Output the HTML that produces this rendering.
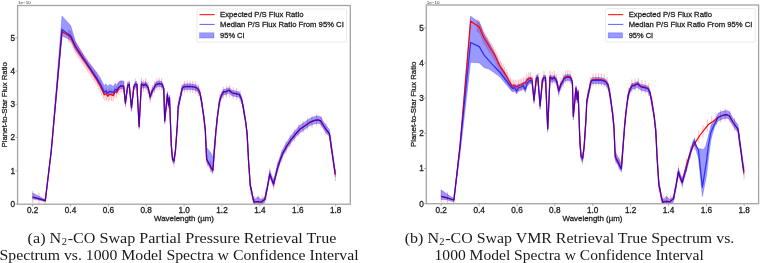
<!DOCTYPE html>
<html><head><meta charset="utf-8"><style>
html,body{margin:0;padding:0;background:#fff;}
body{width:760px;height:263px;overflow:hidden;position:relative;}
svg{position:absolute;left:0;top:0;will-change:transform;filter:blur(0.25px);}
svg text{font-family:"Liberation Sans",sans-serif;stroke:#222;stroke-width:0.28px;} svg text.tk{stroke-width:0.3px;stroke:#222;} svg text.off{stroke:none;}
svg text.serif{font-family:"Liberation Serif",serif;stroke:none;}
</style></head><body>
<svg width="760" height="263" viewBox="0 0 760 263"><rect width="760" height="263" fill="#fff"/><clipPath id="ca"><rect x="17.6" y="5.5" width="332.7" height="198.7"/></clipPath><g clip-path="url(#ca)"><path d="M32.6 191.1V203.1M38.9 192.7V204.7M45.2 194.6V206.6M61.8 28.1V40.1M68.6 29.7V41.7M69.7 30.4V42.4M70.8 31.1V43.1M71.9 33.5V45.5M73.0 35.9V47.9M74.1 38.4V50.4M75.2 40.9V52.9M76.4 42.7V54.7M77.6 44.5V56.5M78.8 46.3V58.3M80.0 48.1V60.1M81.2 50.0V62.0M82.4 51.8V63.8M83.7 53.7V65.7M85.0 55.6V67.6M86.3 57.6V69.6M87.6 59.6V71.6M88.9 61.6V73.6M90.3 63.6V75.6M91.7 65.7V77.7M93.1 67.9V79.9M94.5 70.1V82.1M95.9 72.3V84.3M97.4 74.8V86.8M98.8 77.5V89.5M100.3 80.2V92.2M101.9 83.4V95.4M103.4 86.8V98.8M105.0 88.3V100.3M106.6 88.4V100.4M108.2 89.7V101.7M109.8 88.4V100.4M111.5 88.7V100.7M113.1 89.6V101.6M114.8 86.3V98.3M116.6 86.1V98.1M118.3 82.7V94.7M120.1 80.7V92.7M121.9 80.2V92.2M123.7 80.7V92.7M125.6 95.8V107.8M127.5 81.5V93.5M129.4 80.2V92.2M131.3 100.1V112.1M133.3 85.9V97.9M135.3 78.4V90.4M137.3 86.0V98.0M139.4 115.9V127.9M141.4 78.0V90.0M143.5 79.7V91.7M145.7 78.2V90.2M147.9 81.5V93.5M150.1 91.0V103.0M152.3 84.8V96.8M154.6 81.2V93.2M156.9 78.4V90.4M159.2 77.7V89.7M161.6 78.3V90.3M164.0 88.7V100.7M166.4 98.2V110.2M168.9 96.4V108.4M171.4 140.0V152.0M173.9 155.1V167.1M176.5 130.4V142.4M179.1 96.7V108.7M181.8 84.3V96.3M184.5 80.8V92.8M187.2 80.6V92.6M190.0 80.6V92.6M192.8 80.9V92.9M195.6 81.6V93.6M198.5 84.2V96.2M201.4 95.0V107.0M204.4 116.3V128.3M207.4 154.7V166.7M210.5 160.4V172.4M213.6 154.7V166.7M216.7 117.2V129.2M219.9 94.1V106.1M223.2 86.7V98.7M226.5 85.5V97.5M229.8 85.0V97.0M233.2 87.2V99.2M236.6 87.9V99.9M240.1 90.2V102.2M243.6 103.6V115.6M247.2 129.2V141.2M250.8 182.1V194.1M254.5 196.1V208.1M258.3 195.8V207.8M262.0 195.6V207.6M265.9 188.4V200.4M269.8 167.9V179.9M273.8 177.6V189.6M277.8 161.6V173.6M281.8 149.8V161.8M286.0 141.6V153.6M290.2 135.0V147.0M294.4 129.6V141.6M298.7 124.5V136.5M303.1 121.1V133.1M307.5 118.0V130.0M312.0 115.4V127.4M316.6 114.1V126.1M321.2 115.8V127.8M325.9 123.2V135.2M330.7 137.0V149.0M335.5 169.0V181.0" stroke="#ff0000" stroke-opacity="0.26" stroke-width="1.1" fill="none"/><polygon points="32.7,193.1 38.6,195.9 45.3,199.4 51.3,148.3 62.0,16.0 70.7,25.5 75.3,41.1 80.6,50.6 86.0,59.0 91.3,65.7 96.6,72.2 100.6,78.5 104.3,85.8 106.0,83.8 107.7,86.4 109.4,84.5 111.7,85.2 113.4,86.5 115.1,83.2 116.8,84.9 118.5,82.0 120.8,80.7 123.7,81.2 125.4,99.9 127.7,82.9 129.2,81.6 131.5,105.2 133.8,84.4 135.3,81.6 136.9,81.6 139.1,123.7 141.4,81.2 143.7,83.0 145.7,81.4 148.3,85.4 150.1,94.4 152.4,87.7 153.6,86.2 155.8,82.0 158.9,80.8 162.0,81.6 163.8,86.1 164.7,118.4 167.4,91.4 168.5,102.4 169.5,94.9 171.3,142.4 172.5,156.4 174.0,158.4 175.5,147.4 177.3,122.4 178.2,103.9 180.0,95.9 182.0,86.4 183.5,84.1 189.2,83.7 194.0,84.2 197.0,85.4 199.6,88.9 201.7,99.6 203.8,114.3 205.3,127.5 206.6,147.6 209.0,150.4 211.3,153.5 212.8,157.9 216.0,127.4 217.4,114.2 219.5,98.6 221.6,92.3 223.7,89.1 225.8,89.1 228.9,87.4 232.1,90.2 236.3,91.0 239.4,92.0 241.5,96.2 243.6,106.7 245.7,119.3 247.2,132.5 248.5,157.5 250.3,183.5 251.4,187.6 252.6,194.2 254.0,199.8 257.8,196.7 261.3,199.5 264.8,196.8 267.2,185.3 269.8,170.2 271.5,175.2 273.6,180.3 277.4,164.6 280.8,154.0 283.4,148.0 286.8,142.0 291.1,135.5 296.1,129.5 299.8,125.3 304.7,122.1 309.7,118.4 314.6,116.4 318.3,115.9 320.8,117.1 324.5,123.3 329.4,129.5 335.2,169.5 335.2,177.0 329.4,137.0 324.5,130.8 320.8,124.5 318.3,123.3 314.6,123.8 309.7,125.8 304.7,129.5 299.8,132.7 296.1,136.8 291.1,142.8 286.8,149.3 283.4,155.3 280.8,161.2 277.4,171.6 273.6,187.1 271.5,181.8 269.8,176.7 267.2,191.2 264.8,202.3 261.3,205.0 257.8,204.5 254.0,205.0 252.6,199.5 251.4,193.1 250.3,189.1 248.5,163.1 247.2,138.1 245.7,124.9 243.6,112.4 241.5,101.9 239.4,97.7 236.3,96.7 232.1,95.9 228.9,93.1 225.8,94.8 223.7,94.8 221.6,98.0 219.5,104.3 217.4,120.0 216.0,133.2 212.8,173.7 211.3,171.0 209.0,166.6 206.6,162.2 205.3,133.2 203.8,120.0 201.7,105.4 199.6,94.7 197.0,91.2 194.0,90.0 189.2,89.5 183.5,89.8 182.0,92.1 180.0,101.6 178.2,109.6 177.3,128.1 175.5,153.1 174.0,164.1 172.5,162.1 171.3,148.1 169.5,100.6 168.5,108.1 167.4,97.1 164.7,124.1 163.8,91.8 162.0,87.3 158.9,86.5 155.8,87.6 153.6,91.8 152.4,93.3 150.1,100.0 148.3,91.0 145.7,87.0 143.7,88.6 141.4,86.8 139.1,129.3 136.9,87.2 135.3,87.2 133.8,90.0 131.5,110.8 129.2,87.2 127.7,88.4 125.4,105.9 123.7,89.1 120.8,88.7 118.5,90.3 116.8,93.5 115.1,92.1 113.4,95.7 111.7,94.7 109.4,94.2 107.7,96.2 106.0,93.7 104.3,95.1 100.6,87.5 96.6,80.7 91.3,72.8 86.0,64.8 80.6,57.2 75.3,49.6 70.7,40.0 62.0,36.0 51.3,153.0 45.3,201.7 38.6,200.1 32.7,199.1" fill="#0000ff" fill-opacity="0.4" stroke="#0000ff" stroke-opacity="0.3" stroke-width="0.7" stroke-linejoin="round"/><polyline points="32.7,197.1 38.6,198.6 45.3,200.6 51.3,150.7 62.0,31.5 70.7,37.0 75.3,47.0 80.6,55.1 86.0,63.1 91.3,71.2 96.6,79.4 100.6,86.7 104.3,94.7 106.0,93.5 107.7,96.3 109.4,94.3 111.7,94.8 113.4,95.8 115.1,91.7 116.8,92.2 118.5,88.2 120.8,86.0 123.7,86.4 125.4,103.2 127.7,85.7 129.2,84.4 131.5,108.0 133.8,87.2 135.3,84.4 136.9,84.4 139.1,126.5 141.4,84.0 143.7,85.8 145.7,84.2 148.3,88.2 150.1,97.2 152.4,90.5 153.6,89.0 155.8,84.8 158.9,83.6 162.0,84.4 163.8,88.9 164.7,121.2 167.4,94.2 168.5,105.2 169.5,97.7 171.3,145.2 172.5,159.2 174.0,161.2 175.5,150.2 177.3,125.2 178.2,106.7 180.0,98.7 182.0,89.2 183.5,86.9 189.2,86.5 194.0,87.0 197.0,88.2 199.6,91.7 201.7,102.4 203.8,117.0 205.3,130.2 206.6,159.2 209.0,163.6 211.3,168.0 212.8,170.7 216.0,130.2 217.4,117.0 219.5,101.4 221.6,95.1 223.7,91.9 225.8,91.9 228.9,90.2 232.1,93.0 236.3,93.8 239.4,94.8 241.5,99.0 243.6,109.5 245.7,122.0 247.2,135.2 248.5,160.2 250.3,186.2 251.4,190.2 252.6,196.7 254.0,202.2 257.8,201.7 261.3,202.2 264.8,199.5 267.2,188.4 269.8,173.9 271.5,179.0 273.6,184.2 277.4,168.7 280.8,158.2 283.4,152.2 286.8,146.1 291.1,139.6 296.1,133.5 299.8,129.3 304.7,126.1 309.7,122.4 314.6,120.4 318.3,119.9 320.8,121.1 324.5,127.3 329.4,133.8 335.2,175.0" fill="none" stroke="#ff0000" stroke-width="1.2" stroke-linejoin="round"/><polyline points="32.7,197.1 38.6,198.6 45.3,200.6 51.3,150.0 62.0,29.5 70.7,36.0 75.3,46.0 80.6,54.0 86.0,62.0 91.3,70.0 96.6,77.9 100.6,84.6 104.3,92.2 106.0,90.8 107.7,93.3 109.4,91.3 111.7,91.8 113.4,92.8 115.1,89.2 116.8,90.6 118.5,87.4 120.8,85.8 123.7,86.2 125.4,103.0 127.7,85.5 129.2,84.2 131.5,107.8 133.8,87.0 135.3,84.2 136.9,84.2 139.1,126.3 141.4,83.8 143.7,85.6 145.7,84.0 148.3,88.0 150.1,97.0 152.4,90.3 153.6,88.8 155.8,84.6 158.9,83.4 162.0,84.2 163.8,88.7 164.7,121.0 167.4,94.0 168.5,105.0 169.5,97.5 171.3,145.0 172.5,159.0 174.0,161.0 175.5,150.0 177.3,125.0 178.2,106.5 180.0,98.5 182.0,89.0 183.5,86.7 189.2,86.3 194.0,86.8 197.0,88.0 199.6,91.5 201.7,102.2 203.8,116.8 205.3,130.0 206.6,159.0 209.0,163.4 211.3,167.8 212.8,170.5 216.0,130.0 217.4,116.8 219.5,101.2 221.6,94.9 223.7,91.7 225.8,91.7 228.9,90.0 232.1,92.8 236.3,93.6 239.4,94.6 241.5,98.8 243.6,109.3 245.7,121.8 247.2,135.0 248.5,160.0 250.3,186.0 251.4,190.0 252.6,196.5 254.0,202.0 257.8,201.5 261.3,202.0 264.8,199.3 267.2,188.2 269.8,173.7 271.5,178.8 273.6,184.0 277.4,168.5 280.8,158.0 283.4,152.0 286.8,146.0 291.1,139.5 296.1,133.5 299.8,129.3 304.7,126.1 309.7,122.4 314.6,120.4 318.3,119.9 320.8,121.1 324.5,127.3 329.4,133.5 335.2,173.5" fill="none" stroke="#0000ff" stroke-opacity="0.7" stroke-width="1.25" stroke-linejoin="round"/></g><rect x="17.6" y="5.5" width="332.7" height="198.7" fill="none" stroke="#a4a4a4" stroke-width="1.3"/><line x1="32.6" y1="204.2" x2="32.6" y2="206.4" stroke="#999" stroke-width="0.8"/><text x="32.6" y="212.8" class="tk" font-size="8.2" text-anchor="middle" fill="#222">0.2</text><line x1="70.5" y1="204.2" x2="70.5" y2="206.4" stroke="#999" stroke-width="0.8"/><text x="70.5" y="212.8" class="tk" font-size="8.2" text-anchor="middle" fill="#222">0.4</text><line x1="108.4" y1="204.2" x2="108.4" y2="206.4" stroke="#999" stroke-width="0.8"/><text x="108.4" y="212.8" class="tk" font-size="8.2" text-anchor="middle" fill="#222">0.6</text><line x1="146.2" y1="204.2" x2="146.2" y2="206.4" stroke="#999" stroke-width="0.8"/><text x="146.2" y="212.8" class="tk" font-size="8.2" text-anchor="middle" fill="#222">0.8</text><line x1="184.1" y1="204.2" x2="184.1" y2="206.4" stroke="#999" stroke-width="0.8"/><text x="184.1" y="212.8" class="tk" font-size="8.2" text-anchor="middle" fill="#222">1.0</text><line x1="222.0" y1="204.2" x2="222.0" y2="206.4" stroke="#999" stroke-width="0.8"/><text x="222.0" y="212.8" class="tk" font-size="8.2" text-anchor="middle" fill="#222">1.2</text><line x1="259.9" y1="204.2" x2="259.9" y2="206.4" stroke="#999" stroke-width="0.8"/><text x="259.9" y="212.8" class="tk" font-size="8.2" text-anchor="middle" fill="#222">1.4</text><line x1="297.8" y1="204.2" x2="297.8" y2="206.4" stroke="#999" stroke-width="0.8"/><text x="297.8" y="212.8" class="tk" font-size="8.2" text-anchor="middle" fill="#222">1.6</text><line x1="335.6" y1="204.2" x2="335.6" y2="206.4" stroke="#999" stroke-width="0.8"/><text x="335.6" y="212.8" class="tk" font-size="8.2" text-anchor="middle" fill="#222">1.8</text><line x1="15.4" y1="204.0" x2="17.6" y2="204.0" stroke="#999" stroke-width="0.8"/><text x="15.0" y="206.9" class="tk" font-size="8.2" text-anchor="end" fill="#222">0</text><line x1="15.4" y1="170.8" x2="17.6" y2="170.8" stroke="#999" stroke-width="0.8"/><text x="15.0" y="173.7" class="tk" font-size="8.2" text-anchor="end" fill="#222">1</text><line x1="15.4" y1="137.5" x2="17.6" y2="137.5" stroke="#999" stroke-width="0.8"/><text x="15.0" y="140.4" class="tk" font-size="8.2" text-anchor="end" fill="#222">2</text><line x1="15.4" y1="104.3" x2="17.6" y2="104.3" stroke="#999" stroke-width="0.8"/><text x="15.0" y="107.2" class="tk" font-size="8.2" text-anchor="end" fill="#222">3</text><line x1="15.4" y1="71.0" x2="17.6" y2="71.0" stroke="#999" stroke-width="0.8"/><text x="15.0" y="73.9" class="tk" font-size="8.2" text-anchor="end" fill="#222">4</text><line x1="15.4" y1="37.8" x2="17.6" y2="37.8" stroke="#999" stroke-width="0.8"/><text x="15.0" y="40.7" class="tk" font-size="8.2" text-anchor="end" fill="#222">5</text><text x="18.1" y="4.0" class="off" font-size="4.2" fill="#333" textLength="12.6" lengthAdjust="spacingAndGlyphs">1e−10</text><text x="184.0" y="220.6" font-size="7.6" text-anchor="middle" fill="#222" textLength="60" lengthAdjust="spacingAndGlyphs">Wavelength (µm)</text><text transform="translate(7.4,104.8) rotate(-90)" x="0" y="0" font-size="7.7" text-anchor="middle" fill="#222" textLength="85.5" lengthAdjust="spacingAndGlyphs">Planet-to-Star Flux Ratio</text><rect x="197.0" y="9.1" width="149.5" height="33.0" rx="1.5" fill="#fff" fill-opacity="0.8" stroke="#ddd" stroke-width="0.6"/><line x1="199.5" y1="14.7" x2="214.7" y2="14.7" stroke="#ff0000" stroke-width="1"/><line x1="199.5" y1="24.4" x2="214.7" y2="24.4" stroke="#0000ff" stroke-opacity="0.7" stroke-width="0.9"/><rect x="199.6" y="32.8" width="14.4" height="5.2" fill="#0000ff" fill-opacity="0.4" stroke="#0000ff" stroke-opacity="0.3" stroke-width="0.7"/><text x="220.1" y="17.0" font-size="7.7" fill="#222" textLength="83.4" lengthAdjust="spacingAndGlyphs">Expected P/S Flux Ratio</text><text x="220.1" y="27.3" font-size="7.7" fill="#222" textLength="123.7" lengthAdjust="spacingAndGlyphs">Median P/S Flux Ratio From 95% CI</text><text x="220.1" y="37.7" font-size="7.7" fill="#222" textLength="24.5" lengthAdjust="spacingAndGlyphs">95% CI</text><clipPath id="cb"><rect x="426.3" y="5.0" width="332.3" height="198.7"/></clipPath><g clip-path="url(#cb)"><path d="M441.2 190.0V202.6M447.5 191.7V204.3M453.8 193.7V206.3M470.4 17.7V30.3M477.2 19.4V32.0M478.3 20.1V32.7M479.4 20.9V33.5M480.5 23.4V36.0M481.6 26.0V38.6M482.7 28.6V41.2M483.8 31.2V43.8M485.0 33.1V45.7M486.2 35.0V47.6M487.4 36.9V49.5M488.6 38.9V51.5M489.8 40.8V53.4M491.0 42.8V55.4M492.3 44.8V57.4M493.6 46.8V59.4M494.9 49.0V61.6M496.2 51.8V64.4M497.5 54.7V67.3M498.9 57.6V70.2M500.3 60.4V73.0M501.7 62.5V75.1M503.1 64.6V77.2M504.5 66.8V79.4M506.0 69.2V81.8M507.4 71.8V84.4M508.9 74.5V87.1M510.5 77.2V89.8M512.0 79.4V92.0M513.6 79.7V92.3M515.2 79.7V92.3M516.8 80.6V93.2M518.4 79.4V92.0M520.1 79.0V91.6M521.7 78.4V91.0M523.4 77.3V89.9M525.2 76.7V89.3M526.9 73.9V86.5M528.7 72.6V85.2M530.5 72.2V84.8M532.3 76.1V88.7M534.2 91.7V104.3M536.1 74.4V87.0M538.0 73.1V85.7M539.9 97.1V109.7M541.9 79.6V92.2M543.9 70.9V83.5M545.9 80.1V92.7M548.0 116.4V129.0M550.0 70.5V83.1M552.1 72.2V84.8M554.3 70.7V83.3M556.5 74.2V86.8M558.7 84.2V96.8M560.9 77.6V90.2M563.2 73.8V86.4M565.5 70.9V83.5M567.8 70.1V82.7M570.2 70.7V83.3M572.6 81.8V94.4M575.0 91.8V104.4M577.5 89.9V102.5M580.0 136.0V148.6M582.5 151.9V164.5M585.1 125.8V138.4M587.7 90.2V102.8M590.4 77.1V89.7M593.1 73.4V86.0M595.8 73.2V85.8M598.6 73.2V85.8M601.4 73.5V86.1M604.2 74.3V86.9M607.1 77.0V89.6M610.0 88.5V101.1M613.0 111.0V123.6M616.0 151.5V164.1M619.1 157.6V170.2M622.2 151.5V164.1M625.3 111.9V124.5M628.5 87.5V100.1M631.8 79.6V92.2M635.1 78.4V91.0M638.4 77.8V90.4M641.8 80.2V92.8M645.2 80.9V93.5M648.7 83.3V95.9M652.2 97.5V110.1M655.8 124.6V137.2M659.4 180.5V193.1M663.1 195.3V207.9M666.9 194.9V207.5M670.6 194.8V207.4M674.5 187.2V199.8M678.4 165.5V178.1M682.4 175.7V188.3M686.4 158.8V171.4M690.4 146.3V158.9M694.6 137.7V150.3M698.8 130.7V143.3M703.0 125.0V137.6M707.3 119.6V132.2M711.7 116.1V128.7M716.1 112.7V125.3M720.6 110.0V122.6M725.2 108.6V121.2M729.8 110.4V123.0M734.5 118.2V130.8M739.3 132.9V145.5M744.1 166.6V179.2" stroke="#ff0000" stroke-opacity="0.26" stroke-width="1.1" fill="none"/><polygon points="441.3,189.9 447.2,194.1 453.9,198.7 459.9,144.8 470.6,16.1 479.3,22.6 483.9,33.8 489.2,43.0 494.6,52.9 500.0,64.8 505.3,72.8 511.3,83.5 512.6,84.8 514.6,84.1 516.6,85.5 518.6,84.1 521.3,83.5 523.3,82.1 525.3,81.5 527.3,78.1 530.0,76.8 532.0,77.5 534.0,97.4 536.3,75.7 537.8,74.5 540.1,103.2 542.4,77.9 543.9,75.0 545.5,75.1 547.7,126.4 550.0,74.7 552.3,76.6 554.3,74.9 556.9,79.1 558.7,88.6 561.0,81.6 562.2,80.0 564.4,75.5 567.5,74.3 570.6,75.1 572.4,79.9 573.3,114.0 576.0,85.5 577.1,97.1 578.1,89.2 579.9,139.4 581.1,154.2 582.6,156.3 584.1,144.7 585.9,118.2 586.8,98.7 588.6,90.2 590.6,80.2 592.1,77.7 597.8,77.3 602.6,77.9 605.6,79.1 608.2,82.8 610.3,94.2 612.4,109.3 613.9,123.3 615.2,151.9 617.6,156.1 619.9,160.7 621.4,164.3 624.6,123.5 626.0,109.6 628.1,93.1 630.2,86.4 632.3,83.0 634.4,83.0 637.5,81.2 640.7,84.2 644.9,85.0 648.0,86.1 650.1,90.6 652.2,101.7 654.3,114.9 655.8,128.9 657.1,155.3 658.9,182.9 660.0,187.2 661.2,194.1 662.6,199.9 666.4,196.5 669.9,199.3 673.4,196.3 675.8,184.0 678.4,168.0 680.1,173.2 682.2,178.6 686.3,166.0 689.7,152.5 693.1,140.5 694.5,138.5 696.5,145.5 698.4,148.5 703.6,149.5 705.7,146.0 708.3,136.0 710.9,126.0 715.1,119.6 718.3,113.1 723.2,111.0 726.9,110.5 729.4,111.7 733.1,118.3 738.0,124.8 743.8,167.1 743.8,175.1 738.0,132.7 733.1,126.2 729.4,119.6 726.9,118.3 723.2,118.8 718.3,120.9 715.1,125.8 712.5,134.0 710.9,140.0 708.3,160.0 706.7,175.0 702.4,196.5 698.4,158.0 696.5,152.0 694.5,145.0 693.1,146.5 689.7,158.0 686.3,171.5 682.2,185.7 680.1,180.2 678.4,174.8 675.8,190.3 673.4,202.1 669.9,205.1 666.4,204.8 662.6,205.5 661.2,199.7 660.0,192.9 658.9,188.7 657.1,161.2 655.8,134.8 654.3,120.8 652.2,107.6 650.1,96.5 648.0,92.1 644.9,91.1 640.7,90.2 637.5,87.3 634.4,89.1 632.3,89.1 630.2,92.5 628.1,99.1 626.0,115.6 624.6,129.6 621.4,172.1 619.9,169.2 617.6,164.6 615.2,159.9 613.9,129.3 612.4,115.3 610.3,100.3 608.2,89.0 605.6,85.2 602.6,84.0 597.8,83.4 592.1,83.8 590.6,86.2 588.6,96.3 586.8,104.7 585.9,124.3 584.1,150.7 582.6,162.3 581.1,160.2 579.9,145.4 578.1,95.2 577.1,103.1 576.0,91.5 573.3,120.0 572.4,85.9 570.6,81.1 567.5,80.2 564.4,81.5 562.2,85.9 561.0,87.5 558.7,94.6 556.9,85.1 554.3,80.8 552.3,82.5 550.0,80.6 547.7,132.3 545.5,81.0 543.9,80.9 542.4,83.8 540.1,109.1 537.8,80.2 536.3,81.3 534.0,103.2 532.0,83.6 530.0,83.0 527.3,85.8 525.3,92.4 523.3,88.5 521.3,90.0 518.6,90.7 516.6,94.1 514.6,90.8 512.6,91.7 511.3,90.5 505.3,83.5 500.0,76.9 494.6,73.0 489.2,69.3 483.9,67.6 479.3,62.9 470.6,62.3 459.9,155.7 453.9,202.0 447.2,200.0 441.3,199.5" fill="#0000ff" fill-opacity="0.4" stroke="#0000ff" stroke-opacity="0.3" stroke-width="0.7" stroke-linejoin="round"/><polyline points="441.3,196.3 447.2,197.9 453.9,200.0 459.9,147.3 470.6,21.2 479.3,27.1 483.9,37.7 489.2,46.2 494.6,54.7 500.0,66.3 505.3,74.3 511.3,85.0 512.6,86.3 514.6,85.6 516.6,87.0 518.6,85.6 521.3,85.0 523.3,83.6 525.3,83.0 527.3,79.6 530.0,78.3 532.0,79.0 534.0,99.8 536.3,78.5 537.8,77.2 540.1,105.7 542.4,80.1 543.9,77.2 545.5,77.2 547.7,128.3 550.0,76.7 552.3,78.6 554.3,77.0 556.9,81.2 558.7,90.7 561.0,83.6 562.2,82.0 564.4,77.6 567.5,76.3 570.6,77.2 572.4,81.9 573.3,116.1 576.0,87.5 577.1,99.2 578.1,91.2 579.9,141.4 581.1,156.2 582.6,158.4 584.1,146.7 585.9,120.3 586.8,100.7 588.6,92.3 590.6,82.2 592.1,79.8 597.8,79.4 602.6,79.9 605.6,81.2 608.2,84.9 610.3,96.2 612.4,111.6 613.9,125.6 615.2,156.2 617.6,160.9 619.9,165.5 621.4,168.4 624.6,125.6 626.0,111.6 628.1,95.1 630.2,88.5 632.3,85.1 634.4,85.1 637.5,83.3 640.7,86.3 644.9,87.1 648.0,88.2 650.1,92.6 652.2,103.7 654.3,116.9 655.8,130.9 657.1,157.3 658.9,184.8 660.0,189.0 661.2,195.9 662.6,201.7 666.4,201.2 669.9,201.7 673.4,198.8 675.8,187.1 678.4,171.8 680.1,177.2 682.2,182.7 686.0,166.3 689.4,155.2 692.0,148.8 695.4,142.4 699.7,135.5 704.7,129.1 708.4,124.6 713.3,121.2 718.3,117.3 723.2,115.2 726.9,114.7 729.4,116.0 733.1,122.5 738.0,129.4 743.8,172.9" fill="none" stroke="#ff0000" stroke-width="1.2" stroke-linejoin="round"/><polyline points="441.3,196.3 447.2,197.9 453.9,200.0 459.9,147.3 470.6,42.5 479.3,46.6 483.9,54.9 489.2,60.8 494.6,66.8 500.0,72.5 505.3,79.5 511.3,87.0 512.6,88.3 514.6,87.6 516.6,91.0 518.6,87.6 521.3,87.0 523.3,85.6 525.3,89.6 527.3,83.0 530.0,80.3 532.0,81.0 534.0,100.5 536.3,78.4 537.8,77.2 540.1,105.9 542.4,80.7 543.9,77.8 545.5,77.9 547.7,129.1 550.0,77.4 552.3,79.3 554.3,77.6 556.9,81.9 558.7,91.4 561.0,84.3 562.2,82.7 564.4,78.3 567.5,77.0 570.6,77.9 572.4,82.6 573.3,116.8 576.0,88.2 577.1,99.8 578.1,91.9 579.9,142.1 581.1,156.9 582.6,159.0 584.1,147.4 585.9,121.0 586.8,101.4 588.6,93.0 590.6,82.9 592.1,80.5 597.8,80.1 602.6,80.6 605.6,81.9 608.2,85.6 610.3,96.9 612.4,112.3 613.9,126.3 615.2,156.9 617.6,161.6 619.9,166.2 621.4,169.1 624.6,126.3 626.0,112.3 628.1,95.8 630.2,89.2 632.3,85.8 634.4,85.8 637.5,84.0 640.7,86.9 644.9,87.8 648.0,88.8 650.1,93.3 652.2,104.4 654.3,117.6 655.8,131.6 657.1,158.0 658.9,185.5 660.0,189.7 661.2,196.5 662.6,202.3 666.4,201.6 669.9,201.9 673.4,198.9 675.8,187.1 678.4,171.6 680.1,177.0 682.2,182.5 686.3,168.8 689.7,155.3 693.1,143.7 694.5,141.4 696.5,146.8 698.4,150.0 702.4,187.2 706.7,160.0 708.3,146.0 710.9,132.2 715.1,122.8 718.3,117.3 723.2,115.2 726.9,114.7 729.4,116.0 733.1,122.5 738.0,129.1 743.8,171.4" fill="none" stroke="#0000ff" stroke-opacity="0.7" stroke-width="1.25" stroke-linejoin="round"/></g><rect x="426.3" y="5.0" width="332.3" height="198.7" fill="none" stroke="#a4a4a4" stroke-width="1.3"/><line x1="441.2" y1="203.7" x2="441.2" y2="205.9" stroke="#999" stroke-width="0.8"/><text x="441.2" y="212.8" class="tk" font-size="8.2" text-anchor="middle" fill="#222">0.2</text><line x1="479.1" y1="203.7" x2="479.1" y2="205.9" stroke="#999" stroke-width="0.8"/><text x="479.1" y="212.8" class="tk" font-size="8.2" text-anchor="middle" fill="#222">0.4</text><line x1="517.0" y1="203.7" x2="517.0" y2="205.9" stroke="#999" stroke-width="0.8"/><text x="517.0" y="212.8" class="tk" font-size="8.2" text-anchor="middle" fill="#222">0.6</text><line x1="554.8" y1="203.7" x2="554.8" y2="205.9" stroke="#999" stroke-width="0.8"/><text x="554.8" y="212.8" class="tk" font-size="8.2" text-anchor="middle" fill="#222">0.8</text><line x1="592.7" y1="203.7" x2="592.7" y2="205.9" stroke="#999" stroke-width="0.8"/><text x="592.7" y="212.8" class="tk" font-size="8.2" text-anchor="middle" fill="#222">1.0</text><line x1="630.6" y1="203.7" x2="630.6" y2="205.9" stroke="#999" stroke-width="0.8"/><text x="630.6" y="212.8" class="tk" font-size="8.2" text-anchor="middle" fill="#222">1.2</text><line x1="668.5" y1="203.7" x2="668.5" y2="205.9" stroke="#999" stroke-width="0.8"/><text x="668.5" y="212.8" class="tk" font-size="8.2" text-anchor="middle" fill="#222">1.4</text><line x1="706.4" y1="203.7" x2="706.4" y2="205.9" stroke="#999" stroke-width="0.8"/><text x="706.4" y="212.8" class="tk" font-size="8.2" text-anchor="middle" fill="#222">1.6</text><line x1="744.2" y1="203.7" x2="744.2" y2="205.9" stroke="#999" stroke-width="0.8"/><text x="744.2" y="212.8" class="tk" font-size="8.2" text-anchor="middle" fill="#222">1.8</text><line x1="424.1" y1="203.6" x2="426.3" y2="203.6" stroke="#999" stroke-width="0.8"/><text x="423.7" y="206.5" class="tk" font-size="8.2" text-anchor="end" fill="#222">0</text><line x1="424.1" y1="168.5" x2="426.3" y2="168.5" stroke="#999" stroke-width="0.8"/><text x="423.7" y="171.4" class="tk" font-size="8.2" text-anchor="end" fill="#222">1</text><line x1="424.1" y1="133.3" x2="426.3" y2="133.3" stroke="#999" stroke-width="0.8"/><text x="423.7" y="136.2" class="tk" font-size="8.2" text-anchor="end" fill="#222">2</text><line x1="424.1" y1="98.2" x2="426.3" y2="98.2" stroke="#999" stroke-width="0.8"/><text x="423.7" y="101.1" class="tk" font-size="8.2" text-anchor="end" fill="#222">3</text><line x1="424.1" y1="63.0" x2="426.3" y2="63.0" stroke="#999" stroke-width="0.8"/><text x="423.7" y="65.9" class="tk" font-size="8.2" text-anchor="end" fill="#222">4</text><line x1="424.1" y1="27.9" x2="426.3" y2="27.9" stroke="#999" stroke-width="0.8"/><text x="423.7" y="30.8" class="tk" font-size="8.2" text-anchor="end" fill="#222">5</text><text x="426.8" y="4.0" class="off" font-size="4.2" fill="#333" textLength="12.6" lengthAdjust="spacingAndGlyphs">1e−10</text><text x="592.5" y="220.6" font-size="7.6" text-anchor="middle" fill="#222" textLength="60" lengthAdjust="spacingAndGlyphs">Wavelength (µm)</text><text transform="translate(416.1,104.3) rotate(-90)" x="0" y="0" font-size="7.7" text-anchor="middle" fill="#222" textLength="85.5" lengthAdjust="spacingAndGlyphs">Planet-to-Star Flux Ratio</text><rect x="605.6" y="8.5" width="149.5" height="33.6" rx="1.5" fill="#fff" fill-opacity="0.8" stroke="#ddd" stroke-width="0.6"/><line x1="608.1" y1="14.7" x2="623.3" y2="14.7" stroke="#ff0000" stroke-width="1"/><line x1="608.1" y1="24.4" x2="623.3" y2="24.4" stroke="#0000ff" stroke-opacity="0.7" stroke-width="0.9"/><rect x="608.2" y="32.8" width="14.4" height="5.2" fill="#0000ff" fill-opacity="0.4" stroke="#0000ff" stroke-opacity="0.3" stroke-width="0.7"/><text x="628.7" y="17.0" font-size="7.7" fill="#222" textLength="83.4" lengthAdjust="spacingAndGlyphs">Expected P/S Flux Ratio</text><text x="628.7" y="27.3" font-size="7.7" fill="#222" textLength="123.7" lengthAdjust="spacingAndGlyphs">Median P/S Flux Ratio From 95% CI</text><text x="628.7" y="37.7" font-size="7.7" fill="#222" textLength="24.5" lengthAdjust="spacingAndGlyphs">95% CI</text><text class="serif" x="27.6" y="242.9" font-size="14" textLength="33.60" lengthAdjust="spacingAndGlyphs" fill="#1a1a1a">(a) N</text><text class="serif" x="61.7" y="245.4" font-size="9.6" textLength="5.30" lengthAdjust="spacingAndGlyphs" fill="#1a1a1a">2</text><text class="serif" x="67.7" y="242.9" font-size="14" textLength="268.70" lengthAdjust="spacingAndGlyphs" fill="#1a1a1a">-CO Swap Partial Pressure Retrieval True</text><text class="serif" x="-0.5" y="260.3" font-size="14" textLength="359.10" lengthAdjust="spacingAndGlyphs" fill="#1a1a1a">Spectrum vs. 1000 Model Spectra w Confidence Interval</text><text class="serif" x="404.7" y="242.9" font-size="14" textLength="34.30" lengthAdjust="spacingAndGlyphs" fill="#1a1a1a">(b) N</text><text class="serif" x="439.3" y="245.4" font-size="9.6" textLength="5.30" lengthAdjust="spacingAndGlyphs" fill="#1a1a1a">2</text><text class="serif" x="445.3" y="242.9" font-size="14" textLength="289.00" lengthAdjust="spacingAndGlyphs" fill="#1a1a1a">-CO Swap VMR Retrieval True Spectrum vs.</text><text class="serif" x="434.6" y="260.3" font-size="14" textLength="269.20" lengthAdjust="spacingAndGlyphs" fill="#1a1a1a">1000 Model Spectra w Confidence Interval</text></svg>
</body></html>
